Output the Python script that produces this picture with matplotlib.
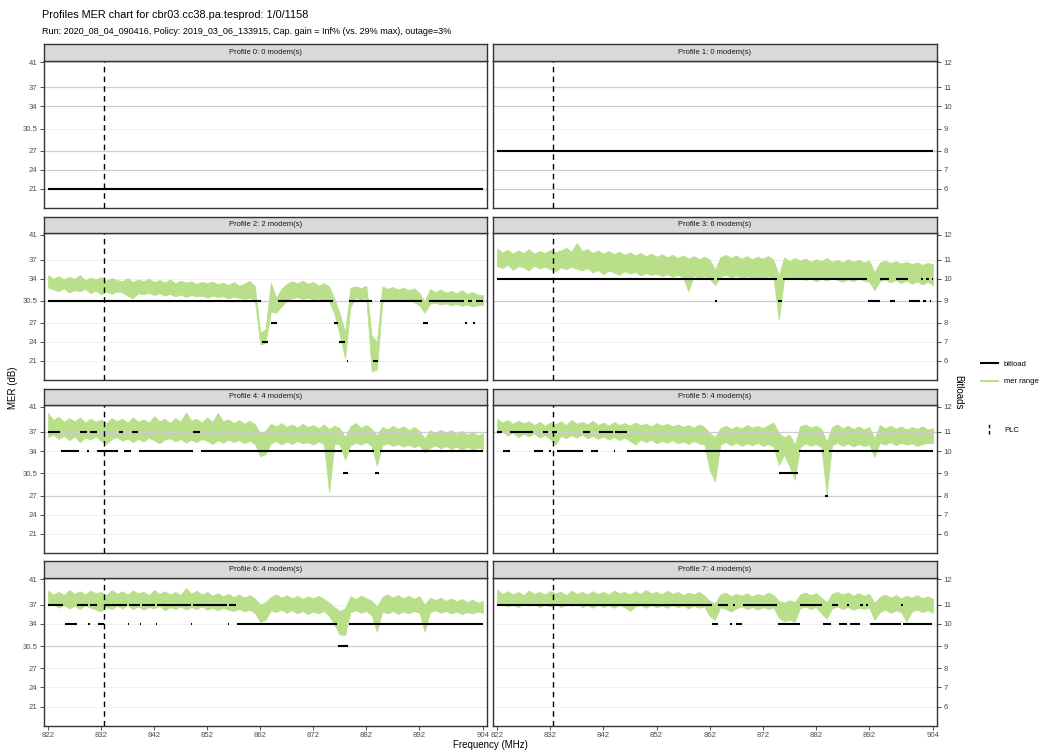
import matplotlib
matplotlib.use("Agg")
import matplotlib.pyplot as plt
from matplotlib.lines import Line2D
from matplotlib.legend_handler import HandlerBase
import numpy as np

plt.rcParams['font.family'] = ['Liberation Sans', 'DejaVu Sans']

# ---------------------------------------------------------------- data
freq_mhz = np.arange(822, 905)          # 1 MHz grid of the OFDM channel
plc_mhz = 832.5

bitload_levels = [6, 7, 8, 9, 10, 11, 12]
mer_thresholds = [21, 24, 27, 30.5, 34, 37, 41]
mer_labels = ["21", "24", "27", "30.5", "34", "37", "41"]
bit_labels = ["6", "7", "8", "9", "10", "11", "12"]

x_ticks = [822, 832, 842, 852, 862, 872, 882, 892, 904]
x_tick_labels = ["822", "832", "842", "852", "862", "872", "882", "892", "904"]

profile_titles = ["Profile 0: 0 modem(s)", "Profile 1: 0 modem(s)",
                  "Profile 2: 2 modem(s)", "Profile 3: 6 modem(s)",
                  "Profile 4: 4 modem(s)", "Profile 5: 4 modem(s)",
                  "Profile 6: 4 modem(s)", "Profile 7: 4 modem(s)"]

# MER range (min / max over the profile's modems) per MHz
mer_hi_p2 = [34.6, 34.0, 34.4, 33.9, 34.3, 34.0, 34.6, 33.8, 34.2, 33.9,
             34.3, 33.7, 34.1, 33.8, 33.6, 34.1, 33.5, 33.9, 33.6, 34.0,
             33.5, 33.8, 33.4, 33.9, 33.3, 33.7, 33.4, 33.6, 33.2, 33.5,
             33.3, 33.6, 33.1, 33.4, 33.0, 33.5, 32.9, 33.2, 33.7, 32.8,
             25.5, 26.0, 33.4, 31.0, 32.4, 33.2, 33.6, 33.3, 33.7, 33.2,
             33.5, 32.9, 33.3, 32.8, 30.8, 28.5, 25.5, 32.6, 32.8, 32.5,
             32.9, 25.0, 24.0, 32.8, 32.4, 32.7, 32.3, 32.6, 32.2, 32.5,
             31.8, 30.4, 32.4, 31.9, 32.3, 31.8, 32.1, 31.7, 32.2, 31.6,
             31.9, 31.5, 31.4]
mer_lo_p2 = [32.6, 32.3, 32.0, 32.5, 31.8, 32.2, 32.0, 32.4, 31.7, 32.1,
             31.5, 32.0, 31.6, 32.0, 31.8, 31.3, 30.9, 31.7, 31.5, 31.8,
             31.4, 31.7, 31.3, 31.6, 31.2, 31.5, 31.1, 31.4, 31.2, 31.3,
             31.0, 31.3, 31.1, 31.2, 30.9, 31.1, 31.0, 30.8, 31.0, 30.6,
             23.6, 23.8, 28.8, 28.6, 29.6, 30.5, 30.9, 31.1, 30.8, 31.0,
             30.7, 30.9, 30.5, 30.4, 28.4, 25.0, 21.4, 29.5, 31.0, 30.7,
             31.0, 19.3, 19.6, 30.2, 30.7, 30.5, 30.8, 30.4, 30.6, 30.3,
             29.8, 28.6, 30.0, 30.2, 29.9, 30.1, 29.8, 30.0, 29.7, 29.9,
             29.6, 29.8, 29.9]

mer_hi_p3 = [38.8, 38.2, 38.6, 38.0, 38.5, 38.1, 38.7, 38.0, 38.4, 38.1,
             38.6, 38.2, 38.5, 38.9, 38.3, 39.7, 38.4, 38.7, 38.1, 38.5,
             38.0, 38.4, 37.9, 38.3, 37.8, 38.2, 37.7, 38.1, 37.6, 38.0,
             37.5, 37.9, 37.4, 37.8, 37.3, 37.7, 37.2, 37.6, 37.1, 37.5,
             37.0, 35.5, 37.4, 37.8, 37.3, 37.7, 37.2, 37.6, 37.1, 37.5,
             37.2, 37.6, 37.0, 34.5, 37.4, 36.8, 37.3, 36.9, 37.2, 36.7,
             37.1, 36.8, 37.3, 36.7, 37.0, 36.6, 37.1, 36.7, 37.0, 36.6,
             36.9, 35.0, 36.6, 36.9, 36.5, 36.8, 36.4, 36.7, 36.3, 36.6,
             36.2, 36.5, 36.3]
mer_lo_p3 = [36.0, 35.7, 36.2, 35.4, 36.0, 35.8, 35.3, 36.1, 35.6, 35.9,
             35.5, 35.2, 35.8, 35.5, 35.9, 35.6, 35.3, 35.7, 35.0, 35.4,
             34.7, 35.3, 35.0, 34.6, 35.2, 34.8, 35.1, 34.5, 34.9, 34.6,
             34.8, 34.4, 34.7, 34.3, 34.6, 34.2, 32.0, 34.5, 34.1, 34.4,
             34.0, 33.0, 34.3, 34.6, 34.2, 34.5, 34.1, 34.4, 34.0, 34.3,
             34.1, 34.4, 34.0, 27.5, 34.0, 34.3, 33.9, 34.2, 33.8, 34.1,
             33.6, 34.0, 33.7, 34.1, 33.8, 33.5, 33.9, 33.6, 34.0, 33.7,
             33.5, 32.2, 33.6, 33.9, 33.4, 33.8, 33.3, 33.7, 33.2, 33.6,
             33.1, 33.5, 33.0]

mer_hi_p4 = [40.0, 38.9, 39.4, 38.6, 39.2, 38.7, 39.3, 38.5, 39.1, 38.6,
             39.0, 38.4, 39.2, 38.7, 39.1, 38.5, 39.3, 38.6, 39.0, 38.5,
             39.5, 38.7, 39.1, 38.4, 39.2, 38.6, 40.1, 38.8, 39.1, 38.5,
             39.3, 38.6, 40.0, 38.7, 39.0, 38.4, 38.9, 38.3, 38.8, 38.2,
             36.8, 37.2, 38.3, 37.9, 38.4, 37.8, 38.2, 37.7, 38.3, 37.8,
             38.1, 37.6, 38.2, 37.5, 38.0, 37.6, 36.2, 37.9, 38.4, 37.7,
             38.1, 37.5, 36.5, 37.8, 37.4, 38.0, 37.5, 37.9, 37.3, 37.8,
             37.2, 36.0, 37.3, 36.8, 37.4, 36.9, 37.3, 36.7, 37.2, 36.6,
             37.0, 36.5, 36.8]
mer_lo_p4 = [36.2, 36.6, 35.9, 36.4, 35.7, 36.3, 35.4, 36.1, 35.8, 36.3,
             35.6, 35.1, 35.9, 36.2, 35.6, 36.0, 35.4, 35.9, 35.5, 36.1,
             35.7, 35.2, 35.8, 36.0, 35.5, 35.9, 35.3, 35.8, 35.4, 35.9,
             35.6, 35.1, 35.7, 35.3, 35.8, 35.4, 35.7, 35.2, 35.6, 35.1,
             33.2, 33.5, 35.2, 35.6, 35.0, 35.5, 35.1, 35.6, 35.2, 35.4,
             35.0, 35.5, 35.1, 27.5, 35.2, 35.0, 32.6, 34.9, 35.3, 35.0,
             35.4, 34.8, 31.7, 34.9, 35.2, 34.8, 35.1, 34.7, 35.0, 34.6,
             34.9, 33.8, 34.5, 34.9, 34.4, 34.8, 34.3, 34.7, 34.2, 34.6,
             34.3, 34.5, 34.3]

mer_hi_p5 = [39.1, 38.5, 38.9, 38.3, 38.8, 38.4, 38.7, 38.1, 38.6, 38.0,
             38.5, 38.2, 38.7, 38.1, 38.9, 38.3, 38.6, 38.2, 38.8, 38.1,
             38.5, 38.0, 38.6, 38.1, 38.4, 38.0, 38.5, 38.1, 38.3, 37.9,
             38.4, 38.0, 38.3, 37.9, 38.2, 37.8, 38.1, 37.7, 38.2, 37.8,
             36.9, 36.2, 37.6, 38.0, 37.5, 37.9, 37.6, 38.1, 37.7, 38.0,
             37.6, 38.1, 38.5, 36.8, 36.2, 36.6, 35.0, 37.9, 38.2, 37.7,
             38.0, 37.5, 35.5, 37.8, 38.2, 37.6, 38.0, 37.5, 37.9, 37.4,
             37.8, 36.0, 38.1, 37.6, 38.0, 37.5, 37.9, 37.4, 37.8, 37.5,
             37.9, 37.4, 37.6]
mer_lo_p5 = [36.8, 37.1, 36.4, 36.9, 36.2, 36.7, 36.3, 36.8, 36.1, 36.5,
             35.9, 35.0, 36.4, 36.0, 36.5, 36.1, 36.6, 36.0, 36.4, 35.9,
             36.3, 35.8, 36.2, 35.7, 36.1, 35.6, 35.0, 35.8, 35.4, 35.8,
             35.2, 35.6, 35.3, 35.7, 35.2, 35.5, 35.1, 35.6, 35.2, 35.0,
             31.0, 29.2, 35.0, 35.4, 34.9, 35.3, 34.8, 35.2, 34.9, 35.3,
             34.8, 35.1, 34.7, 31.8, 33.4, 31.6, 29.5, 34.6, 35.2, 34.8,
             35.1, 34.6, 27.1, 34.9, 35.3, 34.8, 35.2, 34.7, 35.1, 34.8,
             35.0, 33.1, 35.3, 35.0, 35.4, 34.9, 35.3, 35.0, 35.2, 34.8,
             35.1, 35.3, 35.2]

mer_hi_p6 = [39.2, 38.6, 39.0, 38.5, 39.3, 38.7, 39.1, 38.6, 39.2, 38.8,
             39.0, 38.5, 39.3, 38.7, 39.1, 38.6, 39.2, 38.8, 39.0, 38.5,
             39.3, 38.7, 39.1, 38.6, 39.0, 38.5, 39.6, 38.7, 39.2, 38.6,
             39.0, 38.4, 38.8, 38.3, 38.7, 38.2, 38.6, 38.1, 38.5, 38.0,
             37.0, 37.4, 38.2, 38.6, 38.1, 38.5, 38.0, 38.4, 37.9, 38.3,
             38.0, 38.4, 37.9, 37.3, 36.6, 36.0, 36.4, 38.3, 37.9, 38.4,
             38.0, 37.6, 36.7, 38.2, 38.6, 38.1, 38.5, 38.0, 38.4, 37.9,
             38.3, 37.0, 38.1, 37.7, 38.1, 37.6, 38.0, 37.5, 37.9, 37.4,
             37.8, 37.3, 37.6]
mer_lo_p6 = [36.8, 37.1, 36.5, 36.9, 36.4, 36.8, 36.3, 36.9, 36.5, 36.2,
             35.9, 36.6, 36.3, 36.8, 36.4, 36.9, 36.3, 36.7, 36.2, 36.6,
             36.4, 36.8, 36.1, 36.6, 36.3, 36.7, 36.2, 36.6, 36.3, 36.7,
             36.2, 36.5, 36.1, 36.5, 36.2, 36.0, 36.3, 35.9, 36.2, 35.7,
             34.3, 34.6, 36.1, 35.8, 36.2, 35.7, 36.1, 35.6, 36.0, 35.5,
             35.9, 35.6, 36.0, 35.2, 33.8, 32.3, 32.2, 35.8, 36.1, 35.7,
             36.0, 35.3, 32.7, 35.9, 35.6, 36.0, 35.5, 35.9, 35.6, 36.0,
             35.7, 32.7, 35.8, 36.1, 35.7, 36.0, 35.6, 35.9, 35.5, 35.8,
             35.6, 35.9, 35.7]

mer_hi_p7 = [39.4, 38.7, 39.1, 38.6, 39.0, 38.5, 39.2, 38.7, 39.0, 38.6,
             39.1, 38.8, 39.0, 38.5, 39.2, 38.7, 39.0, 38.6, 39.1, 38.7,
             39.0, 38.6, 39.2, 38.8, 39.0, 38.6, 39.1, 38.7, 39.3, 38.8,
             39.0, 38.6, 39.2, 38.7, 39.0, 38.5, 38.9, 38.6, 39.0, 38.4,
             37.6, 37.2, 38.6, 38.9, 38.3, 38.7, 38.4, 38.8, 38.3, 38.7,
             38.4, 38.9, 38.5, 37.6, 37.3, 37.7, 37.4, 38.6, 38.9, 38.5,
             38.8, 38.1, 37.4, 38.7, 39.0, 38.6, 38.9, 38.4, 38.8, 38.4,
             38.7, 37.3, 38.2, 38.6, 38.1, 38.5, 38.0, 38.4, 38.1, 38.5,
             38.0, 38.3, 37.9]
mer_lo_p7 = [36.9, 37.2, 36.7, 37.0, 36.6, 37.1, 36.8, 37.2, 36.6, 37.0,
             36.7, 37.1, 36.6, 37.0, 36.8, 37.1, 36.6, 36.9, 36.5, 37.0,
             36.6, 36.9, 36.5, 36.9, 36.6, 36.0, 36.7, 36.9, 36.5, 36.9,
             36.6, 36.8, 36.5, 36.9, 36.6, 36.8, 36.4, 36.8, 36.5, 36.7,
             35.2, 34.6, 36.6, 36.3, 35.9, 36.4, 36.7, 36.3, 36.6, 36.2,
             36.6, 36.3, 36.5, 34.9, 34.4, 34.6, 34.3, 36.4, 36.7, 36.3,
             36.6, 35.6, 34.8, 36.4, 36.7, 36.3, 36.6, 36.2, 36.5, 36.3,
             36.5, 34.6, 35.8, 36.2, 35.7, 36.1, 35.8, 34.3, 35.9, 36.2,
             35.8, 36.1, 35.7]

# bitload per sub-band: (start MHz, end MHz, bits per symbol)
bitload_p0 = [(822.0, 904.0, 6)]
bitload_p1 = [(822.0, 904.0, 8)]
bitload_p2 = [(822.0, 862.2, 9), (862.3, 863.5, 7), (864.0, 865.2, 8), (865.4, 875.7, 9),
              (875.9, 876.7, 8), (876.9, 878.0, 7), (878.3, 878.6, 6), (878.8, 883.1, 9),
              (883.3, 884.2, 6), (884.5, 892.5, 9), (892.7, 893.6, 8), (893.8, 900.4, 9),
              (900.6, 901.0, 8), (901.2, 902.0, 9), (902.1, 902.5, 8), (902.7, 904.0, 9)]
bitload_p3 = [(822.0, 862.8, 10), (863.0, 863.3, 9), (863.4, 874.7, 10), (874.8, 875.6, 9),
              (875.7, 891.6, 10), (891.8, 894.0, 9), (894.1, 895.8, 10), (895.9, 896.9, 9),
              (897.0, 899.3, 10), (899.4, 901.6, 9), (901.7, 902.1, 10), (902.2, 902.6, 9),
              (902.7, 903.3, 10), (903.4, 903.7, 9), (903.8, 904.0, 10)]
bitload_p4 = [(822.0, 824.3, 11), (824.4, 827.9, 10), (828.0, 829.3, 11), (829.4, 829.8, 10),
              (829.9, 831.2, 11), (831.3, 835.2, 10), (835.3, 836.2, 11), (836.3, 837.7, 10),
              (837.8, 839.0, 11), (839.1, 849.3, 10), (849.4, 850.7, 11), (850.8, 877.5, 10),
              (877.6, 878.6, 9), (878.8, 883.5, 10), (883.6, 884.4, 9), (884.6, 904.0, 10)]
bitload_p5 = [(822.0, 823.0, 11), (823.1, 824.4, 10), (824.5, 828.8, 11), (828.9, 830.6, 10),
              (830.7, 831.6, 11), (831.7, 832.2, 10), (832.3, 833.2, 11), (833.3, 838.1, 10),
              (838.2, 839.5, 11), (839.6, 841.0, 10), (841.1, 843.9, 11), (844.0, 844.1, 10),
              (844.2, 846.4, 11), (846.5, 875.0, 10), (875.1, 878.7, 9), (878.8, 883.5, 10),
              (883.6, 884.3, 8), (884.4, 904.0, 10)]
bitload_p6 = [(822.0, 824.8, 11), (825.2, 827.4, 10), (827.5, 829.5, 11), (829.6, 829.9, 10),
              (830.0, 831.2, 11), (831.4, 832.6, 10), (832.7, 836.9, 11), (837.0, 837.2, 10),
              (837.3, 839.3, 11), (839.4, 839.6, 10), (839.7, 842.2, 11), (842.3, 842.5, 10),
              (842.6, 848.9, 11), (849.0, 849.2, 10), (849.3, 855.8, 11), (855.9, 856.1, 10),
              (856.2, 857.4, 11), (857.6, 876.5, 10), (876.7, 878.5, 9), (878.7, 904.0, 10)]
bitload_p7 = [(822.0, 862.4, 11), (862.5, 863.5, 10), (863.6, 865.4, 11), (865.8, 866.2, 10),
              (866.3, 866.7, 11), (866.9, 868.0, 10), (868.3, 874.7, 11), (874.8, 878.9, 10),
              (879.0, 883.1, 11), (883.3, 884.8, 10), (885.0, 886.1, 11), (886.3, 887.8, 10),
              (887.9, 888.2, 11), (888.3, 890.2, 10), (890.3, 890.8, 11), (891.4, 891.7, 11),
              (892.2, 897.9, 10), (898.0, 898.3, 11), (898.4, 903.8, 10)]

# reference MER levels highlighted per profile
ref_levels = [[37, 34, 27, 24, 21], [37, 34, 27, 24, 21], [30.5], [30.5],
              [37, 27], [37, 27], [30.5], [30.5]]

mer_hi = [None, None, mer_hi_p2, mer_hi_p3, mer_hi_p4, mer_hi_p5, mer_hi_p6, mer_hi_p7]
mer_lo = [None, None, mer_lo_p2, mer_lo_p3, mer_lo_p4, mer_lo_p5, mer_lo_p6, mer_lo_p7]
bitloads = [bitload_p0, bitload_p1, bitload_p2, bitload_p3,
            bitload_p4, bitload_p5, bitload_p6, bitload_p7]
mer_of_bits = dict(zip(bitload_levels, mer_thresholds))

# ---------------------------------------------------------------- style
GREEN = "#b9df8a"
BORDER = "#333333"
TICKTXT = "#4d4d4d"
W, H = 1048, 752

fig = plt.figure(figsize=(W / 100, H / 100), dpi=100)
fig.patch.set_facecolor("white")

col_px = [(44, 487), (493, 937)]
row_px = [(60.5, 208), (233, 380), (405, 553), (577.5, 726)]
strip_h = 16.5


def fig_rect(x0, y0, x1, y1):
    return [x0 / W, 1 - y1 / H, (x1 - x0) / W, (y1 - y0) / H]


for idx in range(8):
    r, c = divmod(idx, 2)
    x0, x1 = col_px[c]
    y0, y1 = row_px[r]
    ax = fig.add_axes(fig_rect(x0, y0, x1, y1))
    ax.set_xlim(821.25, 904.75)
    ax.set_ylim(17.95, 41.25)
    ax.set_facecolor("white")

    for lv in mer_thresholds[:-1]:
        ax.axhline(lv, color="#f0f0f0", lw=0.7, zorder=0.5)
    for lv in ref_levels[idx]:
        ax.axhline(lv, color="#cdcdcd", lw=0.9, zorder=1.5)

    if mer_hi[idx] is not None:
        ax.fill_between(freq_mhz, mer_lo[idx], mer_hi[idx], color=GREEN,
                        lw=0.5, edgecolor=GREEN, zorder=1)

    starts = [s for s, e, b in bitloads[idx]]
    ends = [e for s, e, b in bitloads[idx]]
    levels = [mer_of_bits[b] for s, e, b in bitloads[idx]]
    ax.hlines(levels, starts, ends, colors="black", lw=1.5, zorder=3,
              capstyle="butt")

    ax.axvline(plc_mhz, color="black", lw=1.0, ls=(0, (4, 3)), zorder=4)

    for sp in ax.spines.values():
        sp.set_color(BORDER)
        sp.set_linewidth(1.0)

    ax.set_yticks(mer_thresholds)
    if c == 0:
        ax.set_yticklabels(mer_labels)
        ax.tick_params(axis="y", left=True, right=False, labelleft=True,
                       labelright=False)
    else:
        ax.yaxis.tick_right()
        ax.set_yticklabels(bit_labels)
    ax.tick_params(axis="y", length=3, width=0.6, color=BORDER,
                   labelsize=5.6, labelcolor=TICKTXT, pad=1.5)

    ax.set_xticks(x_ticks)
    if r == 3:
        ax.set_xticklabels(x_tick_labels)
        ax.tick_params(axis="x", length=3, width=0.6, color=BORDER,
                       labelsize=5.6, labelcolor=TICKTXT, pad=1.5)
    else:
        ax.tick_params(axis="x", bottom=False, labelbottom=False)

    sax = fig.add_axes(fig_rect(x0, y0 - strip_h, x1, y0))
    sax.set_facecolor("#d9d9d9")
    sax.set_xticks([])
    sax.set_yticks([])
    for sp in sax.spines.values():
        sp.set_color(BORDER)
        sp.set_linewidth(1.0)
    sax.text(0.5, 0.5, profile_titles[idx], ha="center", va="center",
             fontsize=5.5, color="#1a1a1a", transform=sax.transAxes)

# ---------------------------------------------------------------- text
fig.text(42 / W, 1 - 15 / H, "Profiles MER chart for cbr03.cc38.pa.tesprod: 1/0/1158",
         fontsize=7.8, va="center", ha="left")
fig.text(42 / W, 1 - 31.5 / H,
         "Run: 2020_08_04_090416, Policy: 2019_03_06_133915, Cap. gain = Inf% (vs. 29% max), outage=3%",
         fontsize=6.5, va="center", ha="left")
fig.text(13 / W, 1 - 388 / H, "MER (dB)", rotation=90, fontsize=7,
         va="center", ha="center")
fig.text(490 / W, 1 - 745 / H, "Frequency (MHz)", fontsize=7,
         va="center", ha="center")
fig.text(958 / W, 1 - 392 / H, "Bitloads", rotation=270, fontsize=7,
         va="center", ha="center")


# ---------------------------------------------------------------- legends
class VLineHandler(HandlerBase):
    def create_artists(self, legend, orig_handle, xdescent, ydescent,
                       width, height, fontsize, trans):
        x = 0.5 * width - xdescent
        line = Line2D([x, x], [-ydescent - 0.4 * height, height - ydescent + 0.4 * height],
                      color="black", lw=1.0, ls=(0, (2.5, 2)), transform=trans)
        return [line]


h_bit = Line2D([], [], color="black", lw=1.5)
h_mer = Line2D([], [], color=GREEN, lw=1.5)
fig.legend(handles=[h_bit, h_mer], labels=["bitload", "mer range"],
           loc="center left", bbox_to_anchor=(978 / W, 1 - 373 / H),
           frameon=False, fontsize=5.5, handlelength=2.2, handletextpad=0.8,
           labelspacing=1.3, borderaxespad=0)
h_plc = Line2D([], [], color="black")
fig.legend(handles=[h_plc], labels=["PLC"], handler_map={h_plc: VLineHandler()},
           loc="center left", bbox_to_anchor=(978 / W, 1 - 430 / H),
           frameon=False, fontsize=5.5, handlelength=2.2, handletextpad=0.8,
           borderaxespad=0)

fig.savefig("out.png", dpi=100, facecolor="white")
